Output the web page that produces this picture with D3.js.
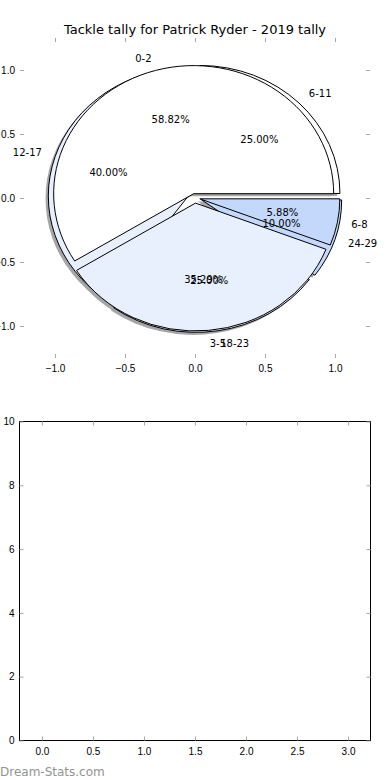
<!DOCTYPE html>
<html>
<head>
<meta charset="utf-8">
<script src="https://cdn.jsdelivr.net/npm/d3@7"></script>
<style>
  body { margin: 0; background: #fff; }
  svg { display: block; font-family: "DejaVu Sans", sans-serif; }
  .tick line { stroke: #a8a8a8; }
  .tick text { fill: #000; font-size: 10px; }
</style>
</head>
<body>
<div id="chart"></div>
<script>
// data
const title = 'Tackle tally for Patrick Ryder - 2019 tally';

const innerLabels = ['0-2', '3-5', '6-8'];
const innerValues = [10, 6, 1];
const innerColors = ['#ffffff', '#e9f0fd', '#c4d8fb'];
const innerExplode = [0.035, 0.04, 0.035];

const outerLabels = ['6-11', '12-17', '18-23', '24-29'];
const outerValues = [5, 8, 5, 2];
const outerColors = ['#ffffff', '#e9f0fd', '#dde8fc', '#c4d8fb'];
const outerExplode = [0.05, 0.05, 0.05, 0.05];

const pieTicks = [-1, -0.5, 0, 0.5, 1];
const barXTicks = [0, 0.5, 1, 1.5, 2, 2.5, 3];
const barYTicks = [0, 2, 4, 6, 8, 10];

const W = 390, H = 780;
const svg = d3.select('#chart')
  .append('svg')
  .attr('width', W)
  .attr('height', H);

// ---- top axes: pie ----
const x1 = d3.scaleLinear().domain([-1.25, 1.25]).range([20, 370]);
const y1 = d3.scaleLinear().domain([-1.25, 1.25]).range([358, 38]);
const sx = x1(1) - x1(0), sy = y1(0) - y1(1);

svg.append('text')
  .attr('x', 195)
  .attr('y', 34)
  .attr('text-anchor', 'middle')
  .style('font-size', '13px')
  .text(title);

function tickAxes(g, x, y, xt, yt, fmtX, fmtY) {
  const [x0, xMax] = x.range();
  const [yB, yT] = y.range();
  g.append('g').attr('transform', `translate(0,${yB})`)
    .call(d3.axisBottom(x).tickValues(xt).tickSize(-4).tickPadding(7).tickFormat(fmtX))
    .call(a => a.select('.domain').remove());
  g.append('g').attr('transform', `translate(0,${yT})`)
    .call(d3.axisTop(x).tickValues(xt).tickSize(-4).tickFormat(''))
    .call(a => a.select('.domain').remove());
  g.append('g').attr('transform', `translate(${x0},0)`)
    .call(d3.axisLeft(y).tickValues(yt).tickSize(-4).tickPadding(5).tickFormat(fmtY))
    .call(a => a.select('.domain').remove());
  g.append('g').attr('transform', `translate(${xMax},0)`)
    .call(d3.axisRight(y).tickValues(yt).tickSize(-4).tickFormat(''))
    .call(a => a.select('.domain').remove());
  g.selectAll('.tick text').attr('font-family', null).attr('font-size', null);
}

tickAxes(svg.append('g'), x1, y1, pieTicks, pieTicks, d3.format('.1f'), d3.format('.1f'));

// matplotlib style: start at 3 o'clock, counter-clockwise
const pie = d3.pie()
  .sort(null)
  .value(d => d.value)
  .startAngle(Math.PI / 2)
  .endAngle(Math.PI / 2 - 2 * Math.PI);

const arc = d3.arc().innerRadius(0).outerRadius(1);

function layout(labels, values, colors, explode) {
  const total = d3.sum(values);
  return pie(values.map((v, i) => ({ label: labels[i], value: v, color: colors[i], e: explode[i] })))
    .map(d => {
      const mid = Math.PI / 2 - (d.startAngle + d.endAngle) / 2;
      d.cos = Math.cos(mid);
      d.sin = Math.sin(mid);
      d.cx = d.data.e * d.cos;
      d.cy = d.data.e * d.sin;
      d.pct = (d.value / total * 100).toFixed(2) + '%';
      return d;
    });
}

const outer = layout(outerLabels, outerValues, outerColors, outerExplode);
const inner = layout(innerLabels, innerValues, innerColors, innerExplode);
const all = outer.concat(inner);

const pieG = svg.append('g');

// shadows under every wedge
pieG.selectAll('path.shadow')
  .data(all)
  .enter()
  .append('path')
  .attr('class', 'shadow')
  .attr('d', arc)
  .attr('transform', d => `translate(${x1(d.cx - 0.02)},${y1(d.cy - 0.02)}) scale(${sx},${sy})`)
  .attr('fill', '#a6a6a6')
  .attr('stroke', 'none');

pieG.selectAll('path.wedge')
  .data(all)
  .enter()
  .append('path')
  .attr('class', 'wedge')
  .attr('d', arc)
  .attr('transform', d => `translate(${x1(d.cx)},${y1(d.cy)}) scale(${sx},${sy})`)
  .attr('fill', d => d.data.color)
  .attr('stroke', '#000')
  .attr('stroke-width', 1)
  .attr('vector-effect', 'non-scaling-stroke')
  .attr('stroke-linejoin', 'round');

pieG.selectAll('text.lbl')
  .data(all)
  .enter()
  .append('text')
  .attr('class', 'lbl')
  .attr('x', d => x1(d.cx + 1.1 * d.cos))
  .attr('y', d => y1(d.cy + 1.1 * d.sin))
  .attr('dy', '0.35em')
  .attr('text-anchor', d => d.cos > 0 ? 'start' : 'end')
  .style('font-size', '10px')
  .text(d => d.data.label);

pieG.selectAll('text.pct')
  .data(all)
  .enter()
  .append('text')
  .attr('class', 'pct')
  .attr('x', d => x1(d.cx + 0.6 * d.cos))
  .attr('y', d => y1(d.cy + 0.6 * d.sin))
  .attr('dy', '0.35em')
  .attr('text-anchor', 'middle')
  .style('font-size', '10px')
  .text(d => d.pct);

// ---- bottom axes: empty ----
const x2 = d3.scaleLinear().domain([-0.22, 3.22]).range([19.5, 370.5]);
const y2 = d3.scaleLinear().domain([0, 10]).range([740.5, 421.5]);

const barG = svg.append('g');
barG.append('rect')
  .attr('x', x2.range()[0])
  .attr('y', y2.range()[1])
  .attr('width', x2.range()[1] - x2.range()[0])
  .attr('height', y2.range()[0] - y2.range()[1])
  .attr('fill', 'none')
  .attr('stroke', '#000')
  .attr('stroke-width', 1)
  .attr('shape-rendering', 'crispEdges');
tickAxes(barG, x2, y2, barXTicks, barYTicks, d3.format('.1f'), d3.format('d'));

svg.append('text')
  .attr('x', 0)
  .attr('y', 776)
  .attr('fill', '#939393')
  .style('font-size', '12px')
  .text('Dream-Stats.com');
</script>
</body>
</html>
